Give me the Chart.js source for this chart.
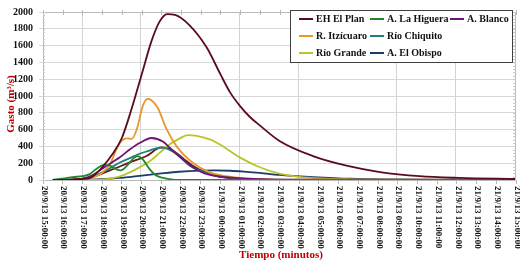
<!DOCTYPE html>
<html><head><meta charset="utf-8">
<script src="https://cdn.jsdelivr.net/npm/chart.js@4/dist/chart.umd.min.js"></script>
<style>html,body{margin:0;padding:0;background:#fff;}</style>
</head><body>
<canvas id="c" width="520" height="265" style="display:block;width:520px;height:265px"></canvas>
<script>
// ---- tick labels (hours since 20/9/13 15:00) ----
const xLabels = [
  '20/9/13 15:00:00','20/9/13 16:00:00','20/9/13 17:00:00','20/9/13 18:00:00','20/9/13 19:00:00',
  '20/9/13 20:00:00','20/9/13 21:00:00','20/9/13 22:00:00','20/9/13 23:00:00','21/9/13 00:00:00',
  '21/9/13 01:00:00','21/9/13 02:00:00','21/9/13 03:00:00','21/9/13 04:00:00','21/9/13 05:00:00',
  '21/9/13 06:00:00','21/9/13 07:00:00','21/9/13 08:00:00','21/9/13 09:00:00','21/9/13 10:00:00',
  '21/9/13 11:00:00','21/9/13 12:00:00','21/9/13 13:00:00','21/9/13 14:00:00','21/9/13 15:00:00'
];
const yTicks = [0,200,400,600,800,1000,1200,1400,1600,1800,2000];
const gridHours = [2, 4.93, 9.93, 12.93, 17.93, 20.93];

// ---- series (time in hours, discharge m3/s) ----
const ehT = [0.5,1.0,1.5,2.0,2.4,3.0,3.5,4.0,4.5,5.0,5.5,5.9,6.3,6.7,7.4,8.3,9.0,9.5,10.0,10.5,11.0,12.0,13.7,15.4,17.1,19.1,21.1,24];
const ehV = [0,2,5,12,25,150,300,500,850,1250,1650,1880,1975,1965,1850,1580,1260,1040,880,750,650,465,285,171,95,45,25,12];

const higT = [0.5,1.0,1.5,2.0,2.37,2.7,3.1,3.4,3.7,3.95,4.3,4.6,4.8,5.05,5.4,5.7,6.1,6.6,7.2,24];
const higV = [3,15,35,45,70,130,180,170,130,115,180,260,285,248,133,60,25,5,0,0];

const blancoT = [0.5,1.5,2.0,2.5,3.1,3.5,3.9,4.4,4.9,5.5,6.1,6.4,6.9,7.6,8.2,9.3,11,13,24];
const blancoV = [0,3,15,57,150,209,270,362,440,500,456,390,285,152,80,34,11,3,0];

const itzT = [0.5,1.5,2.0,2.4,2.9,3.2,3.4,3.8,4.05,4.3,4.5,4.76,5.06,5.3,5.5,5.82,6.27,6.78,7.6,8.46,9.63,11,13,24];
const itzV = [0,3,8,20,70,130,190,400,480,495,490,605,880,965,950,860,605,400,205,91,34,11,3,0];

const chiqT = [0.5,1.5,2.0,2.4,2.9,3.4,3.9,4.4,4.8,5.4,5.8,6.1,6.4,6.8,7.45,7.95,8.7,9.5,11,13,24];
const chiqV = [0,3,12,35,80,140,209,260,304,350,380,385,360,304,171,114,55,25,8,2,0];

const grandeT = [0.5,2.0,2.9,3.6,4.15,4.9,5.4,5.9,6.4,6.9,7.35,7.8,8.5,9.0,10,11,12,13,14,15.6,18.1,24];
const grandeV = [0,0,3,25,65,150,220,320,420,490,535,525,480,419,266,152,76,38,19,8,3,0];

const obispoT = [0.5,1.86,2.9,3.9,4.9,5.9,6.9,7.95,8.7,9.5,10.2,11,12,13.7,15.6,18.1,20.6,24];
const obispoV = [0,3,10,25,50,75,98,112,115,110,100,85,60,35,15,6,3,1];

// unlabelled series visible in the plot (not in legend)
const extraT = [0.5,1.4,2.4,3.4,4.4,5.25,6.0,6.5,6.95,7.2,7.6,8.6,9.5,11,13,24];
const extraV = [0,3,30,114,209,285,388,362,290,240,170,57,20,5,1,0];

const names = ['EH El Plan','A. La Higuera','A. Blanco','R. Itzícuaro','Río Chiquito','Río Grande','A. El Obispo'];
const colors = ['#5a0c1c','#22882a','#6e1478','#e8962e','#1f7f7f','#bcc42c','#1c3c6c','#6a1616'];

function pts(t, v){ return t.map((x,i)=>({x:x, y:v[i]})); }
const series = [[ehT,ehV],[higT,higV],[blancoT,blancoV],[itzT,itzV],[chiqT,chiqV],[grandeT,grandeV],[obispoT,obispoV],[extraT,extraV]];

const datasets = series.map((s,i)=>({
  label: names[i] || '',
  data: pts(s[0], s[1]),
  borderColor: colors[i],
  backgroundColor: colors[i],
  borderWidth: 1.8,
  pointRadius: 0,
  fill: false,
  cubicInterpolationMode: 'monotone'
}));

const SERIF = '"Liberation Serif","Times New Roman",serif';

const decor = {
  id: 'decor',
  beforeDatasetsDraw(chart){
    const {ctx, chartArea:a, scales:{x}} = chart;
    ctx.save();
    ctx.strokeStyle = '#d4d4d4'; ctx.lineWidth = 1;
    gridHours.forEach(h=>{
      const px = Math.round(x.getPixelForValue(h)) + 0.5;
      ctx.beginPath(); ctx.moveTo(px, a.top); ctx.lineTo(px, a.bottom); ctx.stroke();
    });
    ctx.restore();
  },
  afterDraw(chart){
    const {ctx, chartArea:a, scales:{x,y}} = chart;
    ctx.save();
    // frame: top & right
    ctx.strokeStyle = '#b8b8b8'; ctx.lineWidth = 1;
    ctx.beginPath();
    ctx.moveTo(a.left, a.top+0.5); ctx.lineTo(a.right, a.top+0.5);
    ctx.moveTo(a.right-0.5, a.top); ctx.lineTo(a.right-0.5, a.bottom);
    ctx.stroke();
    // top tick marks each hour
    ctx.beginPath();
    for (let i=0;i<xLabels.length;i++){
      const px = Math.round(x.getPixelForValue(i))+0.5;
      ctx.moveTo(px, a.top-2); ctx.lineTo(px, a.top+3);
    }
    ctx.stroke();
    // minor ticks left & right
    ctx.strokeStyle = '#c8c8c8';
    ctx.beginPath();
    for (let v=0; v<=2000; v+=40){
      const py = Math.round(y.getPixelForValue(v))+0.5;
      ctx.moveTo(a.left, py); ctx.lineTo(a.left+2, py);
      ctx.moveTo(a.right-3, py); ctx.lineTo(a.right, py);
    }
    ctx.stroke();
    // x tick labels, rotated clockwise
    ctx.fillStyle = '#111';
    ctx.font = 'bold 9px ' + SERIF;
    ctx.textAlign = 'left'; ctx.textBaseline = 'middle';
    xLabels.forEach((lab,i)=>{
      const px = x.getPixelForValue(i);
      ctx.save();
      ctx.translate(px+1, a.bottom + 6);
      ctx.rotate(Math.PI/2);
      ctx.fillText(lab, 0, 0);
      ctx.restore();
    });
    // axis titles
    ctx.fillStyle = '#c00000';
    ctx.font = 'bold 11px ' + SERIF;
    ctx.textAlign = 'center'; ctx.textBaseline = 'middle';
    ctx.fillText('Tiempo (minutos)', 281, 255);
    ctx.save();
    ctx.translate(11, 104);
    ctx.rotate(-Math.PI/2);
    ctx.fillText('Gasto (m³/s)', 0, 0);
    ctx.restore();
    // legend
    const lx = 290.5, ly = 10.5, lw = 222, lh = 52;
    ctx.fillStyle = '#fff';
    ctx.fillRect(lx, ly, lw, lh);
    ctx.strokeStyle = '#404040'; ctx.lineWidth = 1;
    ctx.strokeRect(lx, ly, lw, lh);
    const rowsY = [19, 36, 53];
    const colText = [316, 387, 467];
    const layout = [[0,0,0],[1,0,1],[2,0,2],[3,1,0],[4,1,1],[5,2,0],[6,2,1]];
    ctx.font = 'bold 10px ' + SERIF;
    ctx.textAlign = 'left'; ctx.textBaseline = 'middle';
    layout.forEach(([di,r,c])=>{
      const ds = chart.data.datasets[di];
      const tx = colText[c], ty = rowsY[r];
      ctx.strokeStyle = ds.borderColor; ctx.lineWidth = 2;
      ctx.beginPath(); ctx.moveTo(tx-17, ty); ctx.lineTo(tx-3, ty); ctx.stroke();
      ctx.fillStyle = '#111';
      ctx.fillText(ds.label, tx, ty+0.5);
    });
    ctx.restore();
  }
};

new Chart(document.getElementById('c'), {
  type: 'line',
  data: { datasets: datasets },
  options: {
    responsive: false,
    animation: false,
    devicePixelRatio: 1,
    layout: { autoPadding: false, padding: { top: 5, right: 4, left: 0, bottom: 0 } },
    plugins: { legend: { display: false }, tooltip: { enabled: false } },
    scales: {
      x: {
        type: 'linear', min: 0, max: 24,
        ticks: { display: false, stepSize: 1 },
        grid: { drawOnChartArea: false, drawTicks: true, tickLength: 4, color: '#b8b8b8' },
        border: { color: '#b8b8b8' },
        afterFit(s){ s.height = 85; }
      },
      y: {
        min: 0, max: 2000,
        afterBuildTicks(s){ s.ticks = yTicks.map(v=>({value:v})); },
        ticks: { color: '#111', font: { family: SERIF, weight: 'bold', size: 10 }, padding: 6,
                 callback: (v)=>String(v) },
        grid: { color: '#d8d8d8', tickLength: 4, drawTicks: true },
        border: { color: '#b8b8b8' },
        afterFit(s){ s.width = 43; }
      }
    }
  },
  plugins: [decor]
});
</script>
</body></html>
